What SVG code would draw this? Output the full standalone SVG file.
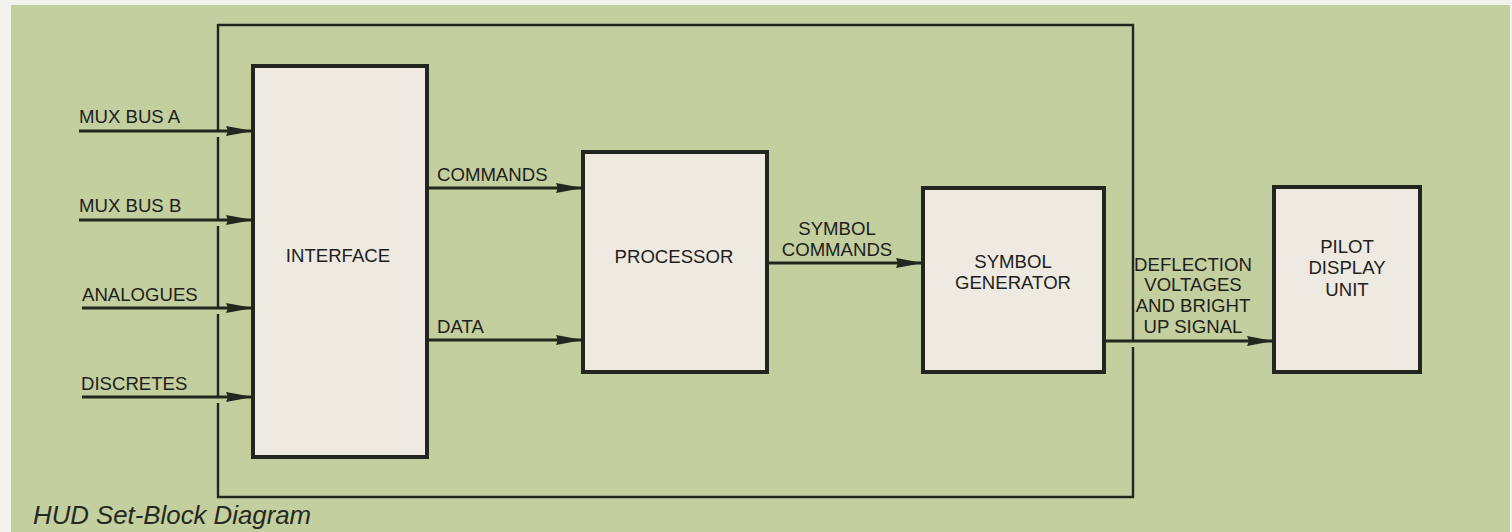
<svg xmlns="http://www.w3.org/2000/svg" width="1512" height="532" viewBox="0 0 1512 532">
  <style>
    .box { fill: #eee9e1; stroke: #23261f; stroke-width: 4; }
    .frame { fill: none; stroke: #23261f; stroke-width: 2.4; }
    .conn { fill: none; stroke: #23261f; stroke-width: 2.8; marker-end: url(#arrow); }
    .lbl { font-family: "Liberation Sans", Arial, sans-serif; font-size: 18.6px; fill: #1e211b; }
    .mid { text-anchor: middle; }
    .cap { font-family: "Liberation Sans", Arial, sans-serif; font-size: 25.8px; font-style: italic; fill: #262822; }
  </style>
  <defs>
    <marker id="arrow" markerUnits="userSpaceOnUse" markerWidth="30" markerHeight="14" refX="27" refY="6" orient="auto">
      <path d="M0,1 L27,6 L0,11 L2,6 Z" fill="#23261f"/>
    </marker>
  </defs>
  <rect x="0" y="0" width="1512" height="532" fill="#f2f2ee"/>
  <rect x="11" y="5" width="1499" height="527" fill="#c3cf9f"/>

  <g id="frame">
    <path class="frame" d="M218,131 L218,25 L1133,25 L1133,341 M1133,347 L1133,497 L218,497 L218,403 M218,397 L218,314 M218,308 L218,226 M218,220 L218,137"/>
  </g>

  <g id="interface">
    <rect class="box" x="253" y="66" width="174" height="391"/>
    <text class="lbl mid" x="338" y="262">INTERFACE</text>
  </g>
  <g id="processor">
    <rect class="box" x="583" y="152" width="184" height="220"/>
    <text class="lbl mid" x="674" y="263">PROCESSOR</text>
  </g>
  <g id="symbol-generator">
    <rect class="box" x="923" y="188" width="181" height="184"/>
    <text class="lbl mid" x="1013" y="268">SYMBOL</text>
    <text class="lbl mid" x="1013" y="289">GENERATOR</text>
  </g>
  <g id="pilot-display-unit">
    <rect class="box" x="1274" y="187" width="146" height="185"/>
    <text class="lbl mid" x="1347" y="253">PILOT</text>
    <text class="lbl mid" x="1347" y="274">DISPLAY</text>
    <text class="lbl mid" x="1347" y="296">UNIT</text>
  </g>

  <g id="connectors">
    <line class="conn" x1="79" y1="131" x2="253" y2="131"/>
    <line class="conn" x1="79" y1="220" x2="253" y2="220"/>
    <line class="conn" x1="82" y1="308" x2="253" y2="308"/>
    <line class="conn" x1="82" y1="397" x2="253" y2="397"/>
    <line class="conn" x1="427" y1="188" x2="583" y2="188"/>
    <line class="conn" x1="427" y1="340" x2="583" y2="340"/>
    <line class="conn" x1="767" y1="263" x2="923" y2="263"/>
    <line class="conn" x1="1104" y1="341" x2="1274" y2="341"/>
  </g>

  <g id="labels">
    <text class="lbl" x="79" y="123">MUX BUS A</text>
    <text class="lbl" x="79" y="212">MUX BUS B</text>
    <text class="lbl" x="82" y="301">ANALOGUES</text>
    <text class="lbl" x="81" y="390">DISCRETES</text>
    <text class="lbl" x="437" y="181">COMMANDS</text>
    <text class="lbl" x="437" y="333">DATA</text>
    <text class="lbl mid" x="837" y="235">SYMBOL</text>
    <text class="lbl mid" x="837" y="256">COMMANDS</text>
    <text class="lbl mid" x="1193" y="271">DEFLECTION</text>
    <text class="lbl mid" x="1193" y="291">VOLTAGES</text>
    <text class="lbl mid" x="1193" y="312">AND BRIGHT</text>
    <text class="lbl mid" x="1193" y="333">UP SIGNAL</text>
  </g>

  <text class="cap" x="33" y="524">HUD Set-Block Diagram</text>
</svg>
